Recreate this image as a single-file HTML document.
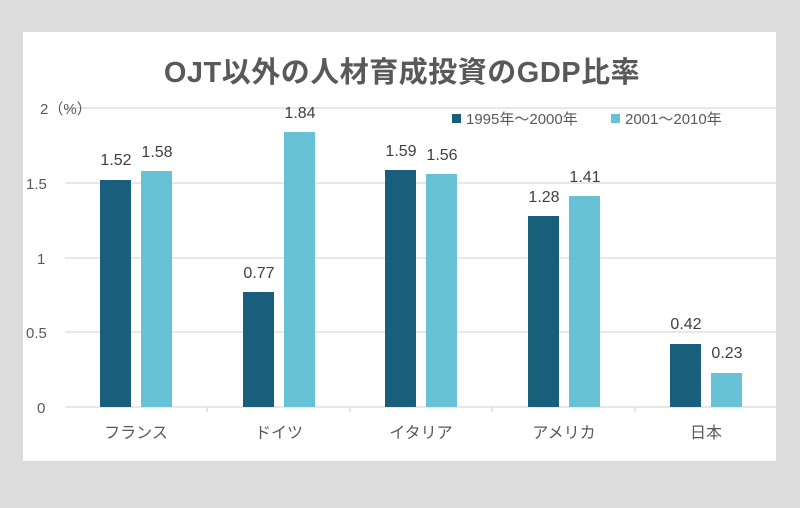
<!DOCTYPE html>
<html><head><meta charset="utf-8"><style>
body{margin:0;background:#dcdcdc;}
svg{display:block;font-family:"Liberation Sans","Noto Sans CJK JP",sans-serif;}
</style></head><body>
<svg width="800" height="508" xmlns="http://www.w3.org/2000/svg">
<rect x="0" y="0" width="800" height="508" fill="#dcdcdc"/>
<rect x="23" y="32" width="753" height="429" fill="#fff"/>
<text x="402" y="82" text-anchor="middle" font-size="29" font-weight="bold" fill="#595959" letter-spacing="0.5">OJT以外の人材育成投資のGDP比率</text>
<g stroke="#d9d9d9" stroke-width="1.3">
<line x1="65" y1="108" x2="776" y2="108"/>
<line x1="65" y1="183" x2="776" y2="183"/>
<line x1="65" y1="258" x2="776" y2="258"/>
<line x1="65" y1="332" x2="776" y2="332"/>
<line x1="65" y1="407" x2="776" y2="407"/>
<line x1="207" y1="407" x2="207" y2="412"/>
<line x1="350" y1="407" x2="350" y2="412"/>
<line x1="492" y1="407" x2="492" y2="412"/>
<line x1="635" y1="407" x2="635" y2="412"/>
</g>
<g font-size="15" fill="#595959">
<text x="40" y="114">2（%）</text>
<text x="26" y="189">1.5</text>
<text x="37" y="264">1</text>
<text x="26" y="338">0.5</text>
<text x="37" y="413">0</text>
</g>
<g fill="#195e7a">
<rect x="100" y="180" width="31" height="227"/>
<rect x="243" y="292" width="31" height="115"/>
<rect x="385" y="170" width="31" height="237"/>
<rect x="528" y="216" width="31" height="191"/>
<rect x="670" y="344" width="31" height="63"/>
</g>
<g fill="#66c2d4">
<rect x="141" y="171" width="31" height="236"/>
<rect x="284" y="132" width="31" height="275"/>
<rect x="426" y="174" width="31" height="233"/>
<rect x="569" y="196" width="31" height="211"/>
<rect x="711" y="373" width="31" height="34"/>
</g>
<g font-size="16" fill="#404040" text-anchor="middle">
<text x="116" y="165">1.52</text>
<text x="157" y="157">1.58</text>
<text x="259" y="278">0.77</text>
<text x="300" y="118">1.84</text>
<text x="401" y="156">1.59</text>
<text x="442" y="160">1.56</text>
<text x="544" y="202">1.28</text>
<text x="585" y="182">1.41</text>
<text x="686" y="329">0.42</text>
<text x="727" y="358">0.23</text>
</g>
<g font-size="16" fill="#595959" text-anchor="middle">
<text x="136" y="438">フランス</text>
<text x="279" y="438">ドイツ</text>
<text x="421" y="438">イタリア</text>
<text x="564" y="438">アメリカ</text>
<text x="706" y="438">日本</text>
</g>
<rect x="452" y="114" width="9" height="9" fill="#195e7a"/>
<text x="466" y="124" font-size="15" fill="#595959">1995年～2000年</text>
<rect x="611" y="114" width="9" height="9" fill="#66c2d4"/>
<text x="625" y="124" font-size="15" fill="#595959">2001～2010年</text>
</svg>
</body></html>
